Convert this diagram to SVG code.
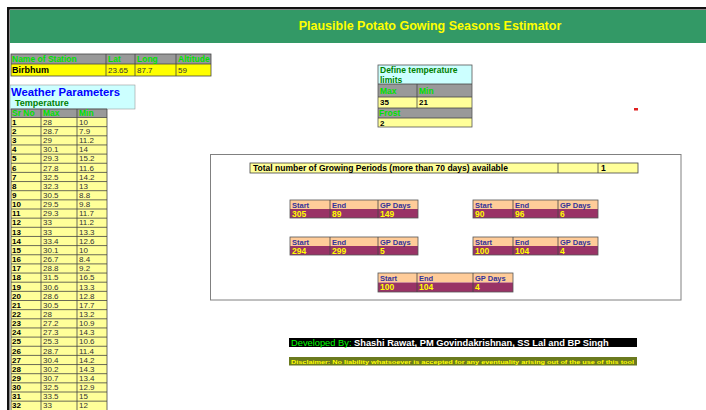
<svg xmlns="http://www.w3.org/2000/svg" width="706" height="410" viewBox="0 0 706 410">
<style>
text{font-family:"Liberation Sans",Arial,sans-serif;}
.hd{font-size:8.5px;font-weight:bold;fill:#00e000;}
.b{font-size:8px;font-weight:bold;fill:#000;}
.n{font-size:8px;fill:#333;}
.gl{stroke:#444;stroke-width:0.8;}
.ph{font-size:7.5px;font-weight:bold;fill:#333399;}
.pd{font-size:8.5px;font-weight:bold;fill:#ffff00;}
</style>
<rect x="0" y="0" width="706" height="410" fill="#fff"/>
<g id="frame">
<rect x="7" y="7" width="699" height="2.5" fill="#111"/>
<rect x="7" y="7" width="2.5" height="403" fill="#111"/>
</g>
<g id="header">
<rect x="10" y="10" width="696" height="33" fill="#339966"/>
<text x="430" y="30" text-anchor="middle" font-size="12.5" font-weight="bold" fill="#ffff00">Plausible Potato Gowing Seasons Estimator</text>
</g>
<g id="station">
<rect x="11" y="54" width="200" height="10" fill="#999"/>
<rect x="11" y="64" width="200" height="12" fill="#ffff00"/>
<rect x="11" y="54" width="200" height="22" fill="none" stroke="#444" stroke-width="0.8"/>
<line class="gl" x1="11" y1="64" x2="211" y2="64"/>
<line class="gl" x1="106" y1="54" x2="106" y2="76"/>
<line class="gl" x1="135" y1="54" x2="135" y2="76"/>
<line class="gl" x1="176" y1="54" x2="176" y2="76"/>
<text class="hd" x="12" y="62" font-size="9">Name of Station</text>
<text class="hd" x="108" y="62" font-size="7">Lat</text>
<text class="hd" x="137" y="62" font-size="7">Long</text>
<text class="hd" x="178" y="62" font-size="7">Altitude</text>
<text x="12" y="73" font-size="9" font-weight="bold" fill="#000">Birbhum</text>
<text class="n" x="108" y="73" fill="#000">23.65</text>
<text class="n" x="137" y="73" fill="#000">87.7</text>
<text class="n" x="178" y="73" fill="#000">59</text>
</g>
<g id="weather-title">
<rect x="10" y="85" width="125" height="24" fill="#ccffff" stroke="#999" stroke-width="0.6"/>
<text x="11" y="95.5" font-size="11.3" font-weight="bold" fill="#0000ff">Weather Parameters</text>
<text x="15" y="106" font-size="9" font-weight="bold" fill="#008000">Temperature</text>
</g>
<g id="weather-table">
<rect x="11" y="109" width="96" height="8.5" fill="#999"/>
<rect x="11" y="117.5" width="96" height="292.8" fill="#ffff99"/>
<g class="gl">
<line x1="11" y1="109" x2="11" y2="410"/>
<line x1="41" y1="109" x2="41" y2="410"/>
<line x1="77" y1="109" x2="77" y2="410"/>
<line x1="107" y1="109" x2="107" y2="410"/>
<line x1="11" y1="109" x2="107" y2="109"/>
<line x1="11" y1="117.5" x2="107" y2="117.5"/>
<line x1="11" y1="126.65" x2="107" y2="126.65"/>
<line x1="11" y1="135.8" x2="107" y2="135.8"/>
<line x1="11" y1="144.95" x2="107" y2="144.95"/>
<line x1="11" y1="154.1" x2="107" y2="154.1"/>
<line x1="11" y1="163.25" x2="107" y2="163.25"/>
<line x1="11" y1="172.4" x2="107" y2="172.4"/>
<line x1="11" y1="181.55" x2="107" y2="181.55"/>
<line x1="11" y1="190.7" x2="107" y2="190.7"/>
<line x1="11" y1="199.85" x2="107" y2="199.85"/>
<line x1="11" y1="209" x2="107" y2="209"/>
<line x1="11" y1="218.15" x2="107" y2="218.15"/>
<line x1="11" y1="227.3" x2="107" y2="227.3"/>
<line x1="11" y1="236.45" x2="107" y2="236.45"/>
<line x1="11" y1="245.6" x2="107" y2="245.6"/>
<line x1="11" y1="254.75" x2="107" y2="254.75"/>
<line x1="11" y1="263.9" x2="107" y2="263.9"/>
<line x1="11" y1="273.05" x2="107" y2="273.05"/>
<line x1="11" y1="282.2" x2="107" y2="282.2"/>
<line x1="11" y1="291.35" x2="107" y2="291.35"/>
<line x1="11" y1="300.5" x2="107" y2="300.5"/>
<line x1="11" y1="309.65" x2="107" y2="309.65"/>
<line x1="11" y1="318.8" x2="107" y2="318.8"/>
<line x1="11" y1="327.95" x2="107" y2="327.95"/>
<line x1="11" y1="337.1" x2="107" y2="337.1"/>
<line x1="11" y1="346.25" x2="107" y2="346.25"/>
<line x1="11" y1="355.4" x2="107" y2="355.4"/>
<line x1="11" y1="364.55" x2="107" y2="364.55"/>
<line x1="11" y1="373.7" x2="107" y2="373.7"/>
<line x1="11" y1="382.85" x2="107" y2="382.85"/>
<line x1="11" y1="392" x2="107" y2="392"/>
<line x1="11" y1="401.15" x2="107" y2="401.15"/>
</g>
<text class="hd" x="12" y="116">Sr No</text>
<text class="hd" x="43" y="116">Max</text>
<text class="hd" x="79" y="116">Min</text>
<g class="b">
<text x="12" y="124.8">1</text><text x="12" y="133.95">2</text><text x="12" y="143.1">3</text><text x="12" y="152.25">4</text>
<text x="12" y="161.4">5</text><text x="12" y="170.55">6</text><text x="12" y="179.7">7</text><text x="12" y="188.85">8</text>
<text x="12" y="198">9</text><text x="12" y="207.15">10</text><text x="12" y="216.3">11</text><text x="12" y="225.45">12</text>
<text x="12" y="234.6">13</text><text x="12" y="243.75">14</text><text x="12" y="252.9">15</text><text x="12" y="262.05">16</text>
<text x="12" y="271.2">17</text><text x="12" y="280.35">18</text><text x="12" y="289.5">19</text><text x="12" y="298.65">20</text>
<text x="12" y="307.8">21</text><text x="12" y="316.95">22</text><text x="12" y="326.1">23</text><text x="12" y="335.25">24</text>
<text x="12" y="344.4">25</text><text x="12" y="353.55">26</text><text x="12" y="362.7">27</text><text x="12" y="371.85">28</text>
<text x="12" y="381">29</text><text x="12" y="390.15">30</text><text x="12" y="399.3">31</text><text x="12" y="408.45">32</text>
</g>
<g class="n">
<text x="43" y="124.8">28</text><text x="43" y="133.95">28.7</text><text x="43" y="143.1">29</text><text x="43" y="152.25">30.1</text>
<text x="43" y="161.4">29.3</text><text x="43" y="170.55">27.8</text><text x="43" y="179.7">32.5</text><text x="43" y="188.85">32.3</text>
<text x="43" y="198">30.5</text><text x="43" y="207.15">29.5</text><text x="43" y="216.3">29.3</text><text x="43" y="225.45">33</text>
<text x="43" y="234.6">33</text><text x="43" y="243.75">33.4</text><text x="43" y="252.9">30.1</text><text x="43" y="262.05">26.7</text>
<text x="43" y="271.2">28.8</text><text x="43" y="280.35">31.5</text><text x="43" y="289.5">30.6</text><text x="43" y="298.65">28.6</text>
<text x="43" y="307.8">30.5</text><text x="43" y="316.95">28</text><text x="43" y="326.1">27.2</text><text x="43" y="335.25">27.3</text>
<text x="43" y="344.4">25.3</text><text x="43" y="353.55">28.7</text><text x="43" y="362.7">30.4</text><text x="43" y="371.85">30.2</text>
<text x="43" y="381">30.7</text><text x="43" y="390.15">32.5</text><text x="43" y="399.3">33.5</text><text x="43" y="408.45">33</text>
<text x="79" y="124.8">10</text><text x="79" y="133.95">7.9</text><text x="79" y="143.1">11.2</text><text x="79" y="152.25">14</text>
<text x="79" y="161.4">15.2</text><text x="79" y="170.55">11.6</text><text x="79" y="179.7">14.2</text><text x="79" y="188.85">13</text>
<text x="79" y="198">8.8</text><text x="79" y="207.15">9.8</text><text x="79" y="216.3">11.7</text><text x="79" y="225.45">11.2</text>
<text x="79" y="234.6">13.3</text><text x="79" y="243.75">12.6</text><text x="79" y="252.9">10</text><text x="79" y="262.05">8.4</text>
<text x="79" y="271.2">9.2</text><text x="79" y="280.35">16.5</text><text x="79" y="289.5">13.3</text><text x="79" y="298.65">12.8</text>
<text x="79" y="307.8">17.7</text><text x="79" y="316.95">13.2</text><text x="79" y="326.1">10.9</text><text x="79" y="335.25">14.3</text>
<text x="79" y="344.4">10.6</text><text x="79" y="353.55">11.4</text><text x="79" y="362.7">14.2</text><text x="79" y="371.85">14.3</text>
<text x="79" y="381">13.4</text><text x="79" y="390.15">12.9</text><text x="79" y="399.3">15</text><text x="79" y="408.45">12</text>
</g>
</g>
<g id="limits">
<rect x="378" y="65" width="94" height="19" fill="#ccffff"/>
<rect x="378" y="84" width="94" height="13" fill="#999"/>
<rect x="378" y="97" width="94" height="11" fill="#ffff99"/>
<rect x="378" y="108" width="94" height="10" fill="#999"/>
<rect x="378" y="118" width="94" height="9" fill="#ffff99"/>
<rect x="378" y="65" width="94" height="62" fill="none" stroke="#555" stroke-width="0.8"/>
<g class="gl">
<line x1="378" y1="84" x2="472" y2="84"/>
<line x1="378" y1="97" x2="472" y2="97"/>
<line x1="378" y1="108" x2="472" y2="108"/>
<line x1="378" y1="118" x2="472" y2="118"/>
<line x1="417" y1="84" x2="417" y2="108"/>
</g>
<text x="380" y="73" font-size="8.5" font-weight="bold" fill="#008000">Define temperature</text>
<text x="380" y="82.5" font-size="8.5" font-weight="bold" fill="#008000">limits</text>
<text class="hd" x="380" y="94" font-size="7.5">Max</text>
<text class="hd" x="419" y="94" font-size="7.5">Min</text>
<text class="b" x="380" y="105" font-size="7.5">35</text>
<text class="b" x="419" y="105" font-size="7.5">21</text>
<text class="hd" x="379" y="116" font-size="9">Frost</text>
<text class="b" x="380" y="126" font-size="9">2</text>
</g>
<rect x="634" y="108" width="4" height="2.5" fill="#e02020"/>
<g id="results-box">
<rect x="210.5" y="154.5" width="470.5" height="145.5" fill="#fff" stroke="#808080" stroke-width="1"/>
</g>
<g id="total">
<rect x="250" y="163" width="388" height="10" fill="#ffff99" stroke="#444" stroke-width="0.8"/>
<line class="gl" x1="558" y1="163" x2="558" y2="173"/>
<line class="gl" x1="598" y1="163" x2="598" y2="173"/>
<text x="253" y="171" font-size="8.5" font-weight="bold" fill="#000">Total number of Growing Periods (more than 70 days) available</text>
<text x="601" y="171" font-size="8.5" font-weight="bold" fill="#000">1</text>
</g>
<g id="gp1">
<rect x="290" y="200" width="128" height="9" fill="#ffcc99"/>
<rect x="290" y="209" width="128" height="9" fill="#993366"/>
<rect x="290" y="200" width="128" height="18" fill="none" stroke="#555" stroke-width="0.8"/>
<line class="gl" x1="330" y1="200" x2="330" y2="218"/><line class="gl" x1="378" y1="200" x2="378" y2="218"/>
<text class="ph" x="292" y="207.5">Start</text><text class="ph" x="332" y="207.5">End</text><text class="ph" x="380" y="207.5">GP Days</text>
<text class="pd" x="292" y="216.5">305</text><text class="pd" x="332" y="216.5">89</text><text class="pd" x="380" y="216.5">149</text>
</g>
<g id="gp2">
<rect x="473" y="200" width="125" height="9" fill="#ffcc99"/>
<rect x="473" y="209" width="125" height="9" fill="#993366"/>
<rect x="473" y="200" width="125" height="18" fill="none" stroke="#555" stroke-width="0.8"/>
<line class="gl" x1="513" y1="200" x2="513" y2="218"/><line class="gl" x1="558" y1="200" x2="558" y2="218"/>
<text class="ph" x="475" y="207.5">Start</text><text class="ph" x="515" y="207.5">End</text><text class="ph" x="560" y="207.5">GP Days</text>
<text class="pd" x="475" y="216.5">90</text><text class="pd" x="515" y="216.5">96</text><text class="pd" x="560" y="216.5">6</text>
</g>
<g id="gp3">
<rect x="290" y="237" width="128" height="9" fill="#ffcc99"/>
<rect x="290" y="246" width="128" height="9" fill="#993366"/>
<rect x="290" y="237" width="128" height="18" fill="none" stroke="#555" stroke-width="0.8"/>
<line class="gl" x1="330" y1="237" x2="330" y2="255"/><line class="gl" x1="378" y1="237" x2="378" y2="255"/>
<text class="ph" x="292" y="244.5">Start</text><text class="ph" x="332" y="244.5">End</text><text class="ph" x="380" y="244.5">GP Days</text>
<text class="pd" x="292" y="253.5">294</text><text class="pd" x="332" y="253.5">299</text><text class="pd" x="380" y="253.5">5</text>
</g>
<g id="gp4">
<rect x="473" y="237" width="125" height="9" fill="#ffcc99"/>
<rect x="473" y="246" width="125" height="9" fill="#993366"/>
<rect x="473" y="237" width="125" height="18" fill="none" stroke="#555" stroke-width="0.8"/>
<line class="gl" x1="513" y1="237" x2="513" y2="255"/><line class="gl" x1="558" y1="237" x2="558" y2="255"/>
<text class="ph" x="475" y="244.5">Start</text><text class="ph" x="515" y="244.5">End</text><text class="ph" x="560" y="244.5">GP Days</text>
<text class="pd" x="475" y="253.5">100</text><text class="pd" x="515" y="253.5">104</text><text class="pd" x="560" y="253.5">4</text>
</g>
<g id="gp5">
<rect x="378" y="273" width="135" height="9.5" fill="#ffcc99"/>
<rect x="378" y="282.5" width="135" height="9.5" fill="#993366"/>
<rect x="378" y="273" width="135" height="19" fill="none" stroke="#555" stroke-width="0.8"/>
<line class="gl" x1="417" y1="273" x2="417" y2="292"/><line class="gl" x1="473" y1="273" x2="473" y2="292"/>
<text class="ph" x="380" y="280.5">Start</text><text class="ph" x="419" y="280.5">End</text><text class="ph" x="475" y="280.5">GP Days</text>
<text class="pd" x="380" y="290">100</text><text class="pd" x="419" y="290">104</text><text class="pd" x="475" y="290">4</text>
</g>
<g id="credits">
<rect x="289" y="338" width="348" height="9" fill="#000"/>
<text x="291" y="346" font-size="9.3" fill="#00ff00">Developed By: <tspan font-weight="bold" fill="#fff">Shashi Rawat, PM Govindakrishnan, SS Lal and BP Singh</tspan></text>
</g>
<g id="disclaimer">
<rect x="289" y="357" width="348" height="8.5" fill="#6b7a1f"/>
<text x="291" y="363.5" font-size="6" font-weight="bold" fill="#ffff00" textLength="343" lengthAdjust="spacingAndGlyphs">Disclaimer: No liability whatsoever is accepted for any eventuality arising out of the use of this tool</text>
</g>
</svg>
